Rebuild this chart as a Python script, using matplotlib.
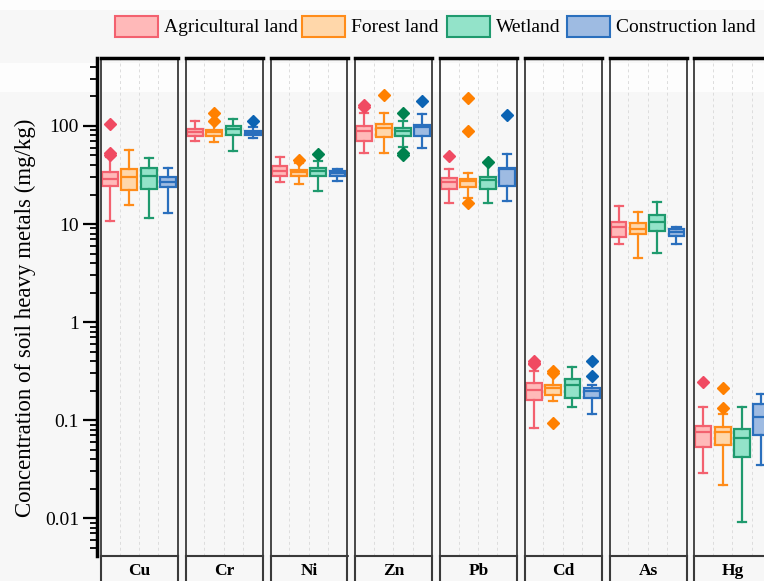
import matplotlib
matplotlib.use("Agg")
import matplotlib.pyplot as plt
import numpy as np
from matplotlib.patches import Rectangle
from matplotlib.ticker import LogLocator, FuncFormatter, NullFormatter, NullLocator

plt.rcParams['font.family'] = ['Liberation Serif', 'DejaVu Serif']

metals = ['Cu', 'Cr', 'Ni', 'Zn', 'Pb', 'Cd', 'As', 'Hg']
lands = ['Agricultural land', 'Forest land', 'Wetland', 'Construction land']

# rows: land use, columns: metals (mg/kg)
whis_lo = [[10.7, 70, 27, 53, 16.4, 0.083, 6.25, 0.029],
           [15.6, 69, 25.7, 53, 18.5, 0.155, 4.5, 0.0217],
           [11.5, 56, 21.7, 61, 16.4, 0.136, 5.06, 0.0091],
           [12.9, 76, 27.5, 60, 17, 0.115, 6.25, 0.035]]
q1 = [[24.5, 79, 31, 70, 22.8, 0.16, 7.4, 0.053],
      [22, 79, 31, 77, 23.9, 0.18, 7.9, 0.056],
      [23, 81, 31, 79, 22.8, 0.168, 8.5, 0.042],
      [24, 81, 31, 79, 24.4, 0.168, 7.6, 0.070]]
median = [[29, 87, 35, 89, 27, 0.202, 9.3, 0.076],
          [30, 87, 34, 95, 27.5, 0.21, 8.9, 0.076],
          [31, 93, 35, 89, 28, 0.227, 10.5, 0.065],
          [27, 85, 33, 98, 36, 0.20, 8.3, 0.107]]
q3 = [[34, 93, 39, 100, 29.5, 0.239, 10.5, 0.087],
      [36.4, 91, 35.5, 105, 28.8, 0.23, 10.3, 0.085],
      [37, 100, 37, 95, 30, 0.26, 12.3, 0.081],
      [30, 89, 35, 102, 37, 0.21, 8.9, 0.146]]
whis_hi = [[48, 113, 48, 136, 36, 0.316, 15.3, 0.136],
           [57, 110, 42, 136, 32.9, 0.316, 13.2, 0.115],
           [47, 118, 44, 113, 42, 0.347, 16.8, 0.136],
           [37, 98, 36.5, 133, 52, 0.23, 9.3, 0.184]]
outliers = [[[105, 53, 50], [], [], [158, 165], [49], [0.40, 0.38, 0.37], [], [0.244]],
            [[], [135, 112], [45], [207], [193, 89, 16.5], [0.316, 0.30, 0.093], [], [0.212, 0.133]],
            [[], [], [52], [136, 53, 51], [43], [], [], []],
            [[], [113], [], [180], [130], [0.40, 0.28], [], []]]

edge_cols = ['#f3616f', '#ff8c1a', '#1f9a6e', '#2a6fbd']
fill_cols = ['#ffb9b9', '#ffd7aa', '#93e3c9', '#9ebbe2']
flier_cols = ['#f04a62', '#ff8000', '#00824f', '#0b63b3']

W, H = 764, 581
fig = plt.figure(figsize=(W / 100, H / 100), dpi=100, facecolor='#f7f7f7')


def fx(px):
    return px / W


def fy(py):
    return 1 - py / H


# light bands in the background
fig.add_artist(Rectangle((0, fy(10)), 1, 10 / H, transform=fig.transFigure,
                         facecolor='#fdfdfd', edgecolor='none', zorder=-10))
fig.add_artist(Rectangle((0, fy(92)), 1, 29 / H, transform=fig.transFigure,
                         facecolor='#fdfdfd', edgecolor='none', zorder=-10))

top_px, bot_px = 58, 556
ylim = (0.0041, 494)
pitch, pw = 84.75, 77

for i, m in enumerate(metals):
    left = 101 + i * pitch
    ax = fig.add_axes([fx(left), fy(bot_px), fx(pw), (bot_px - top_px) / H])
    ax.set_facecolor('none')
    ax.set_yscale('log')
    ax.set_ylim(*ylim)
    ax.set_xlim(0.53, 4.52)
    for k in range(4):
        st = dict(med=median[k][i], q1=q1[k][i], q3=q3[k][i],
                  whislo=whis_lo[k][i], whishi=whis_hi[k][i],
                  fliers=np.array(outliers[k][i]))
        ax.bxp([st], positions=[k + 1], widths=0.82, capwidths=0.42,
               patch_artist=True,
               boxprops=dict(facecolor=fill_cols[k], edgecolor=edge_cols[k], linewidth=1.6),
               medianprops=dict(color=edge_cols[k], linewidth=1.6),
               whiskerprops=dict(color=edge_cols[k], linewidth=1.6),
               capprops=dict(color=edge_cols[k], linewidth=1.6),
               flierprops=dict(marker='D', markersize=6, markerfacecolor=flier_cols[k],
                               markeredgecolor=flier_cols[k]))
    ax.set_xticks([])
    ax.set_xticks([1.5, 2.5, 3.5], minor=True)
    ax.grid(axis='x', which='minor', linestyle=(0, (3, 3)), color='#dddddd', linewidth=0.7)
    ax.yaxis.set_major_locator(NullLocator())
    ax.yaxis.set_minor_locator(NullLocator())
    ax.tick_params(which='both', left=False, bottom=False, labelleft=False, labelbottom=False)
    for s in ['left', 'right', 'bottom']:
        ax.spines[s].set_color('#3a3a3a')
        ax.spines[s].set_linewidth(1.3)
    ax.spines['top'].set_color('black')
    ax.spines['top'].set_linewidth(2.5)

    # facet strip under the panel
    sx = fig.add_axes([fx(left), fy(bot_px + 30), fx(pw), 30 / H])
    sx.set_facecolor('none')
    sx.set_xticks([])
    sx.set_yticks([])
    for s in sx.spines.values():
        s.set_color('#3a3a3a')
        s.set_linewidth(1.5)
    sx.text(0.5, 0.5, m, ha='center', va='center', fontsize=12.5, fontweight='bold',
            transform=sx.transAxes)

# shared y axis
ay = fig.add_axes([fx(97), fy(bot_px), 0.0001, (bot_px - top_px) / H])
ay.set_facecolor('none')
ay.set_yscale('log')
ay.set_ylim(*ylim)
ay.set_xticks([])
for s in ['right', 'top', 'bottom']:
    ay.spines[s].set_visible(False)
ay.spines['left'].set_linewidth(2.5)
ay.spines['left'].set_color('black')
ay.yaxis.set_major_locator(LogLocator(base=10, numticks=12))
ay.yaxis.set_minor_locator(LogLocator(base=10, subs=np.arange(2, 10), numticks=12))
ay.yaxis.set_major_formatter(FuncFormatter(lambda v, p: '%g' % v))
ay.yaxis.set_minor_formatter(NullFormatter())
ay.tick_params(axis='y', which='major', length=10, width=1.6, labelsize=14, pad=3)
ay.tick_params(axis='y', which='minor', length=5, width=1.3)

fig.text(fx(25), fy(318), 'Concentration of soil heavy metals (mg/kg)', rotation=90,
         ha='center', va='center', fontsize=16.5)

# legend drawn at top
leg_x = [115, 302, 447, 567]
for k, name in enumerate(lands):
    fig.add_artist(Rectangle((fx(leg_x[k]), fy(37)), fx(43), 21 / H, transform=fig.transFigure,
                             facecolor=fill_cols[k], edgecolor=edge_cols[k], linewidth=1.5))
    fig.text(fx(leg_x[k] + 49), fy(27), name, ha='left', va='center', fontsize=14)

fig.savefig('out.png', dpi=100, facecolor=fig.get_facecolor())
